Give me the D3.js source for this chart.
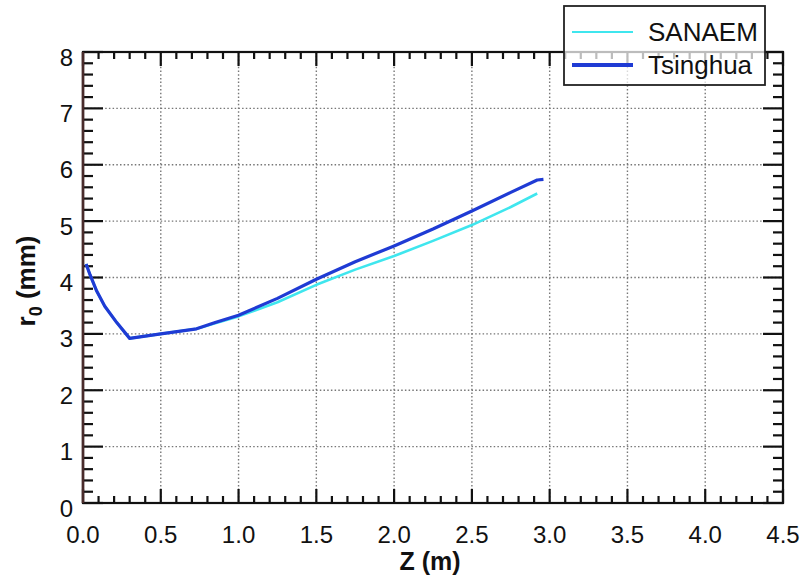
<!DOCTYPE html>
<html>
<head>
<meta charset="utf-8">
<script src="https://cdn.jsdelivr.net/npm/d3@7"></script>
<style>
  html, body { margin: 0; padding: 0; background: #fff; }
  svg text { font-family: "Liberation Sans", Arial, Helvetica, sans-serif; fill: #111; }
</style>
</head>
<body>
<svg id="chart" width="806" height="578"></svg>
<script>
// Beam radius r0 along the axis Z for two calculations
const zTsinghua = [0.02, 0.045, 0.088, 0.14, 0.217, 0.30, 0.50, 0.73, 0.85, 1.00, 1.25, 1.50, 1.75, 2.00, 2.25, 2.50, 2.75, 2.92, 2.96];
const rTsinghua = [4.24, 4.05, 3.76, 3.49, 3.20, 2.92, 3.00, 3.09, 3.20, 3.33, 3.63, 3.97, 4.28, 4.56, 4.86, 5.18, 5.51, 5.73, 5.74];

const zSanaem = [0.02, 0.045, 0.088, 0.14, 0.217, 0.30, 0.50, 0.73, 0.85, 1.00, 1.25, 1.50, 1.75, 2.00, 2.25, 2.50, 2.75, 2.92];
const rSanaem = [4.24, 4.05, 3.76, 3.49, 3.20, 2.92, 3.00, 3.09, 3.19, 3.31, 3.56, 3.87, 4.14, 4.38, 4.65, 4.93, 5.25, 5.49];

const xTicks = [0.0, 0.5, 1.0, 1.5, 2.0, 2.5, 3.0, 3.5, 4.0, 4.5];
const yTicks = [0, 1, 2, 3, 4, 5, 6, 7, 8];
const seriesNames = ["SANAEM", "Tsinghua"];
const seriesColors = ["#3fe6ee", "#1f3bd4"];

const svg = d3.select("#chart");
const plotL = 83, plotR = 783, plotT = 52, plotB = 503;

const x = d3.scaleLinear().domain([0, 4.5]).range([plotL, plotR]);
const y = d3.scaleLinear().domain([0, 8]).range([plotB, plotT]);

// dotted grid at major ticks
const grid = svg.append("g").attr("stroke", "#777").attr("stroke-width", 1.4)
  .attr("stroke-dasharray", "1.5,2.2");
grid.selectAll("line.gx").data(xTicks.filter(v => v > 0 && v < 4.5)).join("line")
  .attr("x1", d => x(d)).attr("x2", d => x(d)).attr("y1", plotT).attr("y2", plotB);
grid.selectAll("line.gy").data(yTicks.filter(v => v > 0 && v < 8)).join("line")
  .attr("y1", d => y(d)).attr("y2", d => y(d)).attr("x1", plotL).attr("x2", plotR);

// inward ticks on all four sides
const xMinor = d3.range(0, 46).map(i => i / 10);
const yMinor = d3.range(0, 41).map(i => i / 5);
const isMajorX = v => Math.abs(v * 2 - Math.round(v * 2)) < 1e-6;
const isMajorY = v => Math.abs(v - Math.round(v)) < 1e-6;

const ticks = svg.append("g").attr("stroke", "#111").attr("stroke-width", 2.2);
ticks.selectAll("line.xb").data(xMinor).join("line")
  .attr("x1", d => x(d)).attr("x2", d => x(d))
  .attr("y1", plotB).attr("y2", d => plotB - (isMajorX(d) ? 14 : 7));
ticks.selectAll("line.xt").data(xMinor).join("line")
  .attr("x1", d => x(d)).attr("x2", d => x(d))
  .attr("y1", plotT).attr("y2", d => plotT + (isMajorX(d) ? 14 : 7));
ticks.selectAll("line.yl").data(yMinor).join("line")
  .attr("y1", d => y(d)).attr("y2", d => y(d))
  .attr("x1", plotL).attr("x2", d => plotL + (isMajorY(d) ? 20 : 10));
ticks.selectAll("line.yr").data(yMinor).join("line")
  .attr("y1", d => y(d)).attr("y2", d => y(d))
  .attr("x1", plotR).attr("x2", d => plotR - (isMajorY(d) ? 20 : 10));

// frame
svg.append("rect").attr("x", plotL).attr("y", plotT)
  .attr("width", plotR - plotL).attr("height", plotB - plotT)
  .attr("fill", "none").attr("stroke", "#111").attr("stroke-width", 2.2);
svg.append("line").attr("x1", plotL).attr("x2", plotL).attr("y1", plotT).attr("y2", plotB)
  .attr("stroke", "#4a2c2c").attr("stroke-width", 2.6);

// tick labels
svg.append("g").selectAll("text").data(xTicks).join("text")
  .attr("x", d => x(d)).attr("y", 543).attr("text-anchor", "middle")
  .attr("font-size", 24).text(d => d3.format(".1f")(d));
svg.append("g").selectAll("text").data(yTicks).join("text")
  .attr("x", 73).attr("y", d => y(d) + 13.5).attr("text-anchor", "end")
  .attr("font-size", 24).text(d => d);

// axis titles
svg.append("text").attr("x", 430).attr("y", 570).attr("text-anchor", "middle")
  .attr("font-size", 25).attr("font-weight", "bold").text("Z (m)");
const yt = svg.append("text").attr("transform", "translate(35,281) rotate(-90)")
  .attr("text-anchor", "middle").attr("font-size", 26).attr("font-weight", "bold");
yt.append("tspan").text("r");
yt.append("tspan").attr("font-size", 18).attr("dy", 7).text("0");
yt.append("tspan").attr("dy", -7).text(" (mm)");

// curves
const line = d3.line().x(d => x(d[0])).y(d => y(d[1]));
const sanaem = d3.zip(zSanaem, rSanaem);
const tsinghua = d3.zip(zTsinghua, rTsinghua);
svg.append("path").datum(sanaem).attr("d", line).attr("fill", "none")
  .attr("stroke", seriesColors[0]).attr("stroke-width", 2.6).attr("stroke-linejoin", "round");
svg.append("path").datum(tsinghua).attr("d", line).attr("fill", "none")
  .attr("stroke", seriesColors[1]).attr("stroke-width", 3.2).attr("stroke-linejoin", "round");

// legend
const lg = svg.append("g");
lg.append("rect").attr("x", 564).attr("y", 6).attr("width", 201).attr("height", 79)
  .attr("fill", "#fff").attr("fill-opacity", 0.72).attr("stroke", "#222").attr("stroke-width", 1.8);
const rows = [32, 65];
const widths = [2.2, 4];
seriesNames.forEach((name, i) => {
  lg.append("line").attr("x1", 572).attr("x2", 633).attr("y1", rows[i]).attr("y2", rows[i])
    .attr("stroke", seriesColors[i]).attr("stroke-width", widths[i]);
  lg.append("text").attr("x", 648).attr("y", rows[i] + 9).attr("font-size", 26).text(name);
});
</script>
</body>
</html>
